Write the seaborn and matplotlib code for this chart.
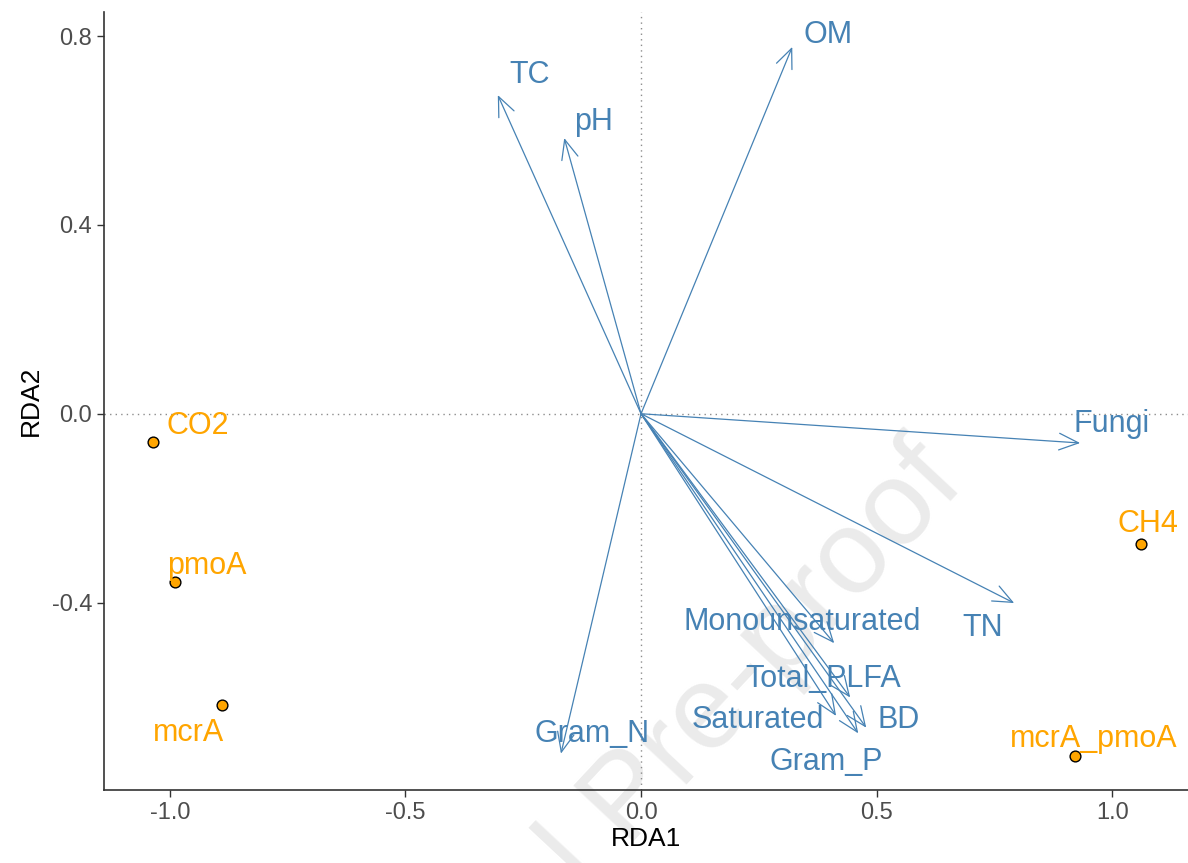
import numpy as np
import pandas as pd
import matplotlib
matplotlib.use("Agg")
import matplotlib.pyplot as plt
import seaborn as sns

# arrow tips (environmental / PLFA variables)
var_names = ["TC", "pH", "OM", "Fungi", "TN", "Gram_N", "Monounsaturated",
             "Total_PLFA", "Saturated", "BD", "Gram_P"]
var_rda1 = [-0.304, -0.163, 0.321, 0.932, 0.792, -0.170, 0.410, 0.444, 0.414, 0.478, 0.461]
var_rda2 = [0.675, 0.584, 0.777, -0.062, -0.401, -0.720, -0.486, -0.601, -0.640, -0.665, -0.677]
var_lab_x = [-0.236, -0.100, 0.397, 0.998, 0.726, -0.104, 0.342, 0.386, 0.248, 0.546, 0.393]
var_lab_y = [0.718, 0.618, 0.803, -0.021, -0.454, -0.679, -0.442, -0.561, -0.648, -0.648, -0.737]

# response points
resp_names = ["CO2", "pmoA", "mcrA", "CH4", "mcrA_pmoA"]
resp_rda1 = [-1.036, -0.989, -0.890, 1.062, 0.921]
resp_rda2 = [-0.059, -0.357, -0.618, -0.276, -0.726]
resp_lab_x = [-0.941, -0.921, -0.960, 1.076, 0.960]
resp_lab_y = [-0.025, -0.323, -0.677, -0.234, -0.688]

x_ticks = [-1.0, -0.5, 0.0, 0.5, 1.0]
y_ticks = [-0.4, 0.0, 0.4, 0.8]

arrow_col = "#4682B4"
point_col = "#FFA500"

sns.set_style("ticks")
plt.rcParams["font.family"] = ["Liberation Sans", "DejaVu Sans"]

fig = plt.figure(figsize=(11.88, 8.63), dpi=100)
ax = fig.add_axes([0.0875, 0.0846, 0.9125, 0.9015])
ax.set_zorder(1)
ax.patch.set_alpha(0)

# watermark behind the panel
fig.text(0.530, 0.072, "Journal Pre-proof", rotation=47, fontsize=86,
         color="#ebebeb", ha="center", va="center", zorder=0)

ax.axhline(0, color="#8c8c8c", linestyle=(0, (1, 3)), linewidth=1.0, zorder=1)
ax.axvline(0, color="#8c8c8c", linestyle=(0, (1, 3)), linewidth=1.0, zorder=1)

for x, y in zip(var_rda1, var_rda2):
    ax.annotate("", xy=(x, y), xytext=(0, 0),
                arrowprops=dict(arrowstyle="->,head_length=0.7,head_width=0.3",
                                color=arrow_col, lw=0.9, shrinkA=0, shrinkB=0,
                                mutation_scale=20), zorder=2)
for name, x, y in zip(var_names, var_lab_x, var_lab_y):
    ax.text(x, y, name, color=arrow_col, fontsize=22, ha="center", va="center", zorder=4)

resp = pd.DataFrame({"RDA1": resp_rda1, "RDA2": resp_rda2, "name": resp_names})
sns.scatterplot(data=resp, x="RDA1", y="RDA2", ax=ax, color=point_col,
                edgecolor="black", linewidth=1.0, s=60, zorder=3)
for name, x, y in zip(resp_names, resp_lab_x, resp_lab_y):
    ax.text(x, y, name, color=point_col, fontsize=22, ha="center", va="center", zorder=4)

ax.set_xlim(-1.140, 1.161)
ax.set_ylim(-0.797, 0.851)
ax.set_xticks(x_ticks)
ax.set_yticks(y_ticks)
ax.set_xticklabels([f"{t:.1f}" for t in x_ticks])
ax.set_yticklabels([f"{t:.1f}" for t in y_ticks])
ax.tick_params(axis="both", labelsize=17, labelcolor="#4D4D4D", color="#333333",
               length=5, width=1.0)
ax.set_xlabel("RDA1", fontsize=19, color="black", labelpad=2)
ax.set_ylabel("RDA2", fontsize=19, color="black", labelpad=6)

for side in ["top", "right"]:
    ax.spines[side].set_visible(False)
for side in ["left", "bottom"]:
    ax.spines[side].set_color("#333333")
    ax.spines[side].set_linewidth(1.2)

fig.savefig("out.png", dpi=100)
